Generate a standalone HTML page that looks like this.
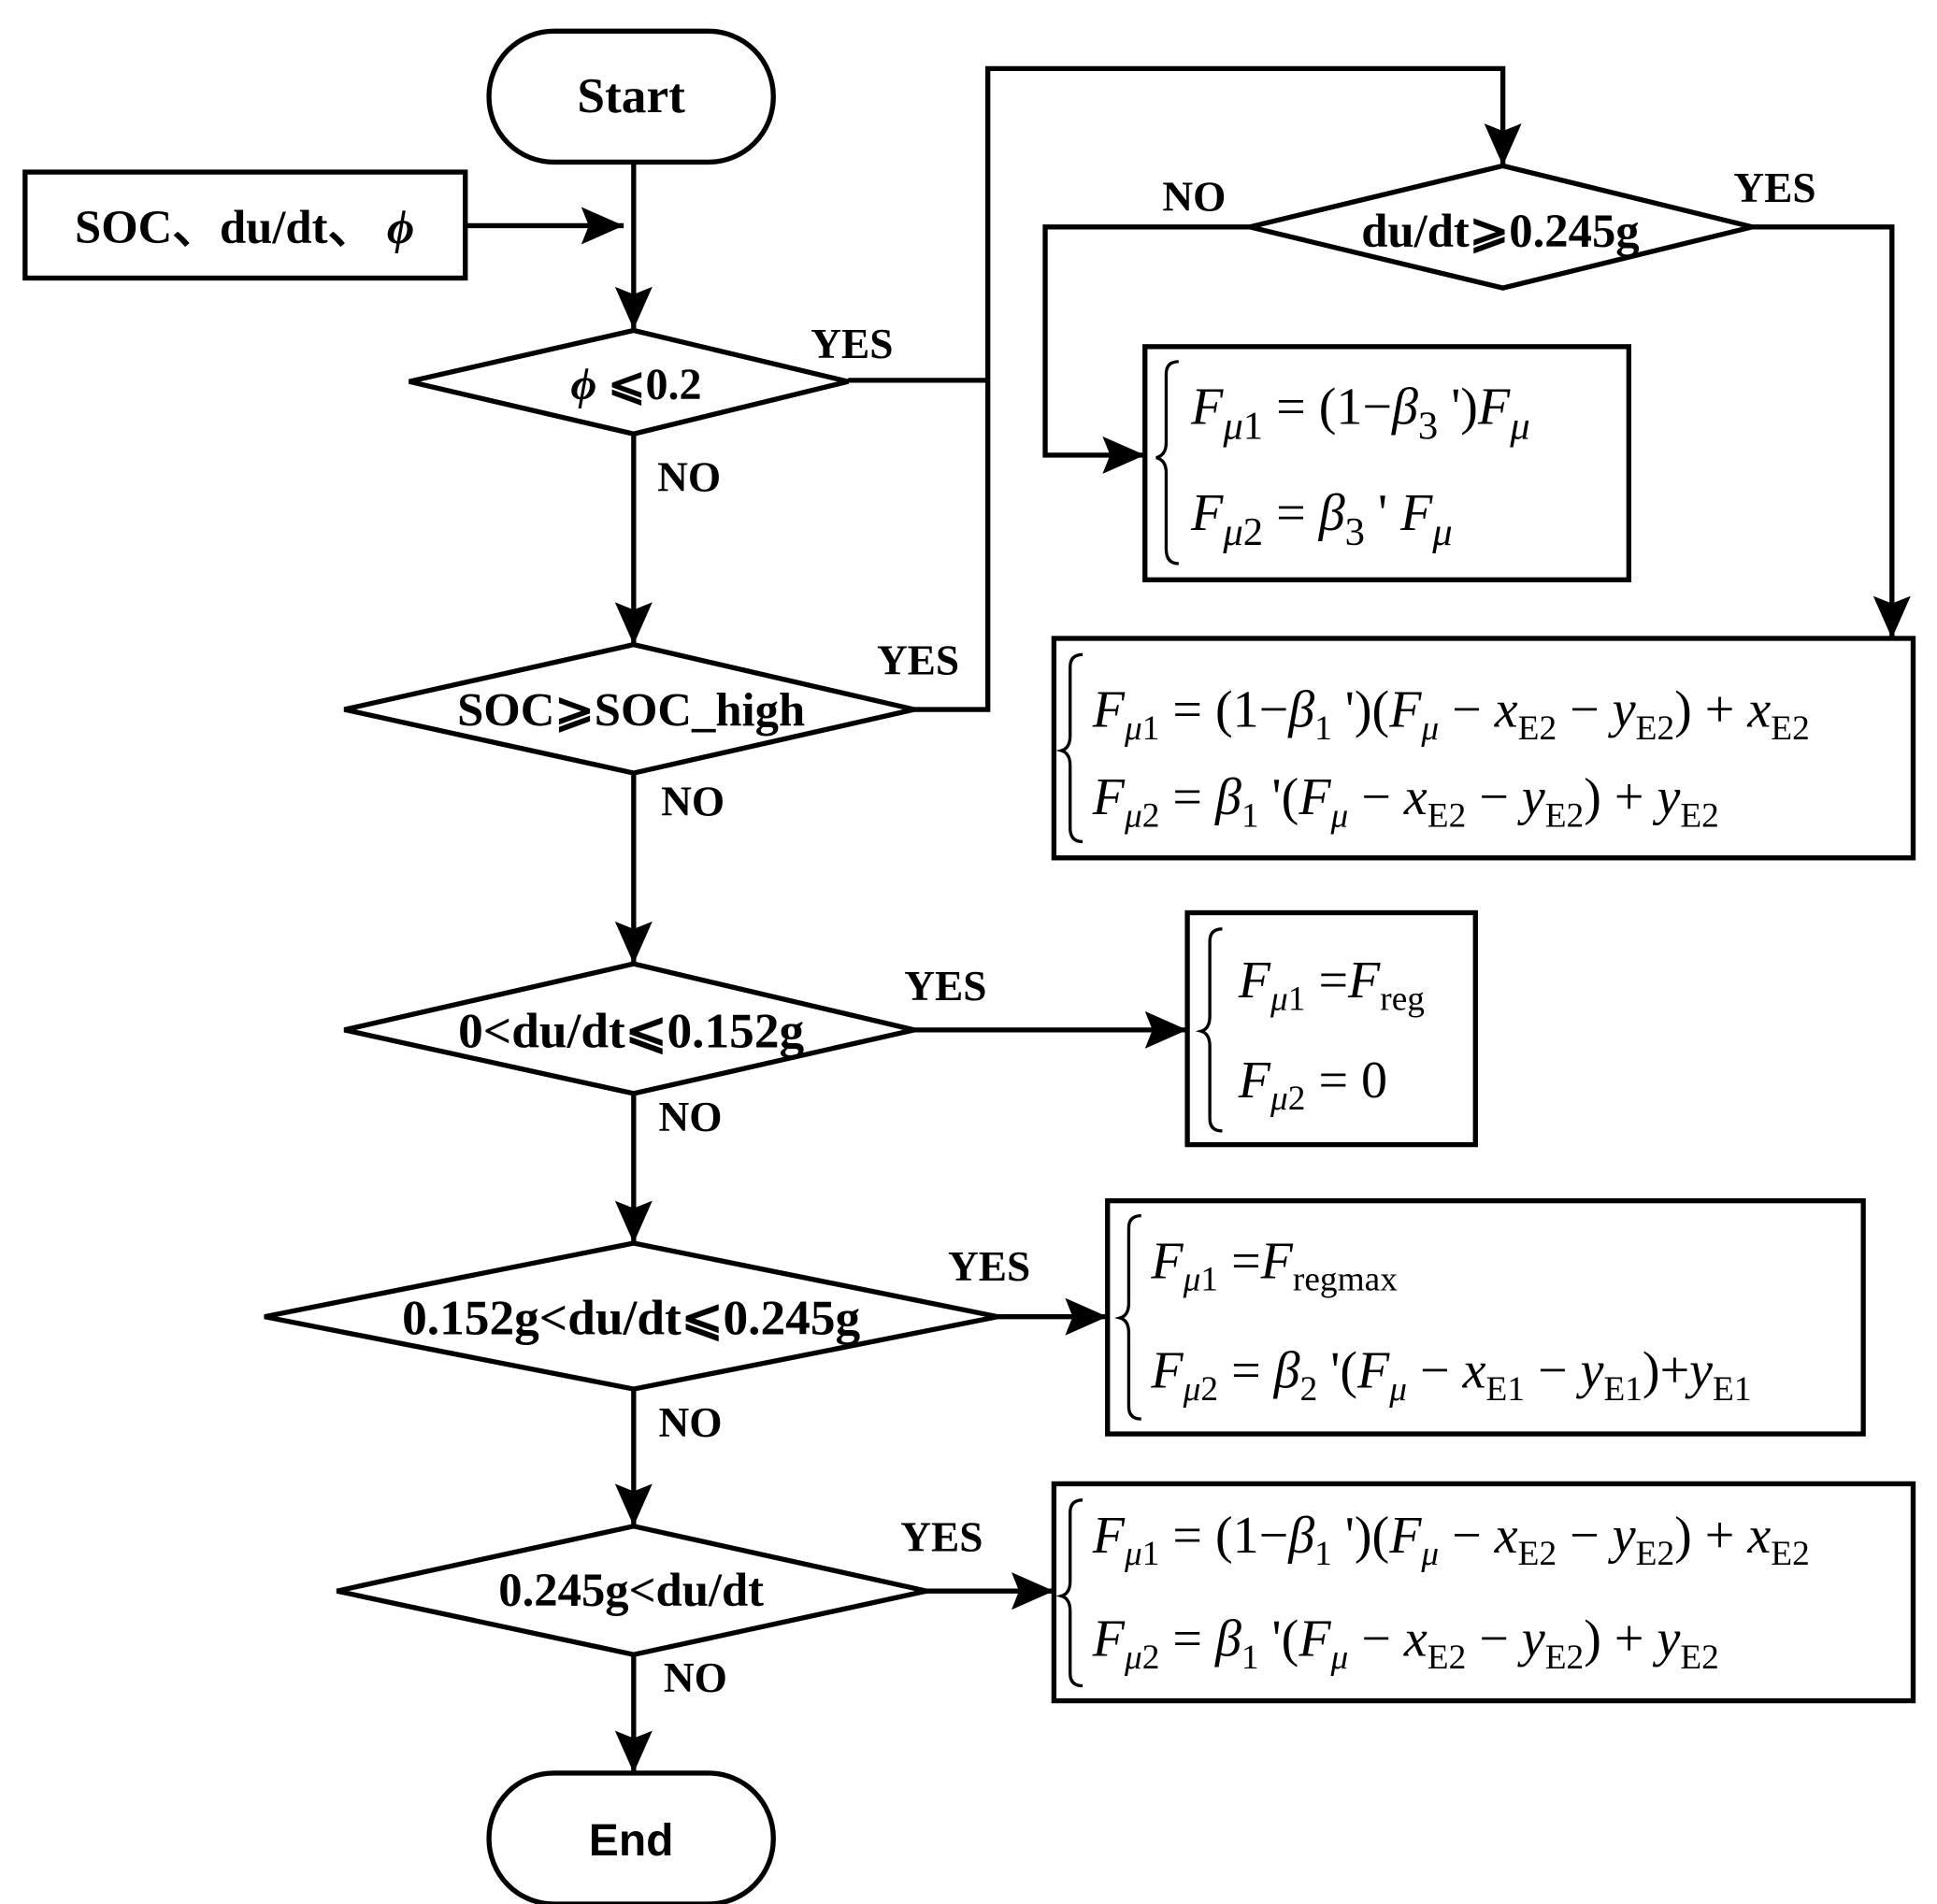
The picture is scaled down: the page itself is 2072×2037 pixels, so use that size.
<!DOCTYPE html>
<html><head><meta charset="utf-8"><style>
html,body{margin:0;padding:0;background:#fff}
svg{display:block}
.l{font-family:"Liberation Serif",serif;font-weight:bold;font-size:34px}
.f{font-family:"Liberation Serif",serif;font-size:42px}
.i{font-style:italic}
</style></head><body>
<svg width="2072" height="2037" viewBox="0 0 1553 1527" xmlns="http://www.w3.org/2000/svg">
<defs>
<marker id="b" markerWidth="34" markerHeight="30" refX="34" refY="15" orient="auto" markerUnits="userSpaceOnUse"><path d="M0,0 L34,15 L0,30 L6,15 z" fill="#000"/></marker></defs>
<g fill="none" stroke="#000" stroke-width="4">
<rect x="392" y="25" width="228" height="105" rx="52"/>
<rect x="392" y="1422" width="228" height="105" rx="52"/>
<rect x="20" y="138" width="353" height="85"/>
<rect x="918" y="278" width="388" height="187"/>
<rect x="845" y="512" width="689" height="176"/>
<rect x="952" y="732" width="231" height="186"/>
<rect x="888" y="963" width="606" height="187"/>
<rect x="845" y="1190" width="689" height="174"/>
<polygon points="328,306 508,265 680,306 508,348"/>
<polygon points="1002,182 1205,133 1405,182 1205,231"/>
<polygon points="276,569 508,517 733,569 508,620"/>
<polygon points="276,826 508,773 733,826 508,877"/>
<polygon points="212,1056 508,997 800,1056 508,1114"/>
<polygon points="270,1276 508,1224 743,1276 508,1327"/>
<g marker-end="url(#b)">
<path d="M373,181 H500"/>
<path d="M508,130 V264"/>
<path d="M792,305 V55 H1205 V133"/>
<path d="M1002,182 H838 V365 H918"/>
<path d="M1405,182 H1517 V512"/>
<path d="M508,348 V517"/>
<path d="M508,620 V773"/>
<path d="M733,826 H952"/>
<path d="M508,877 V997"/>
<path d="M800,1056 H888"/>
<path d="M508,1114 V1224"/>
<path d="M743,1276 H845"/>
<path d="M508,1327 V1422"/>
</g>
<path d="M680,305 H792 M733,569 H792 V305"/>
</g>
<g fill="none" stroke="#000" stroke-width="2.5">
<path d="M945,290 Q935,290 935,300 L935,355 Q935,365 927,367 Q935,369 935,379 L935,440 Q935,452 945,452"/>
<path d="M868,525 Q858,525 858,535 L858,590 Q858,600 851,602 Q858,604 858,614 L858,664 Q858,675 868,675"/>
<path d="M980,745 Q970,745 970,755 L970,815 Q970,825 963,827 Q970,829 970,839 L970,897 Q970,907 980,907"/>
<path d="M915,975 Q905,975 905,985 L905,1045 Q905,1055 898,1057 Q905,1059 905,1069 L905,1128 Q905,1138 915,1138"/>
<path d="M868,1203 Q858,1203 858,1213 L858,1268 Q858,1278 851,1280 Q858,1282 858,1292 L858,1342 Q858,1352 868,1352"/>
</g>
<g class="l" text-anchor="middle">
<text x="506" y="90" font-size="40">Start</text>
<text x="506" y="1488" font-size="36" font-family="Liberation Sans,sans-serif">End</text>
<text x="196" y="195" font-size="38">SOC、du/dt、 <tspan class="i">ϕ</tspan></text>
<text x="510" y="320" font-size="36"><tspan class="i">ϕ</tspan> ⩽0.2</text>
<text x="1203" y="198" font-size="38">du/dt⩾0.245g</text>
<text x="506" y="582" font-size="38">SOC⩾SOC_high</text>
<text x="506" y="840" font-size="40">0&lt;du/dt⩽0.152g</text>
<text x="506" y="1070" font-size="40">0.152g&lt;du/dt⩽0.245g</text>
<text x="506" y="1288" font-size="38">0.245g&lt;du/dt</text>
</g>
<g class="l">
<text x="650" y="287">YES</text><text x="527" y="394">NO</text>
<text x="932" y="169">NO</text><text x="1390" y="162">YES</text>
<text x="703" y="541">YES</text><text x="530" y="654">NO</text>
<text x="725" y="802">YES</text><text x="528" y="907">NO</text>
<text x="760" y="1027">YES</text><text x="528" y="1152">NO</text>
<text x="722" y="1244">YES</text><text x="532" y="1357">NO</text>
</g>
<g class="f" font-size="50">
<text x="955" y="340"><tspan class="i">F</tspan><tspan dy="12" font-size="32" class="i">μ</tspan><tspan font-size="32">1</tspan><tspan dy="-12"> = (1−</tspan><tspan class="i">β</tspan><tspan dy="12" font-size="32">3</tspan><tspan dy="-12"> ')</tspan><tspan class="i">F</tspan><tspan dy="12" font-size="32" class="i">μ</tspan></text>
<text x="955" y="425"><tspan class="i">F</tspan><tspan dy="12" font-size="32" class="i">μ</tspan><tspan font-size="32">2</tspan><tspan dy="-12"> = </tspan><tspan class="i">β</tspan><tspan dy="12" font-size="32">3</tspan><tspan dy="-12"> ' </tspan><tspan class="i">F</tspan><tspan dy="12" font-size="32" class="i">μ</tspan></text>
</g>
<g class="f" font-size="43">
<text x="876" y="583"><tspan class="i">F</tspan><tspan dy="10" font-size="28" class="i">μ</tspan><tspan font-size="28">1</tspan><tspan dy="-10"> = (1−</tspan><tspan class="i">β</tspan><tspan dy="10" font-size="28">1</tspan><tspan dy="-10"> ')(</tspan><tspan class="i">F</tspan><tspan dy="10" font-size="28" class="i">μ</tspan><tspan dy="-10"> − </tspan><tspan class="i">x</tspan><tspan dy="10" font-size="28">E2</tspan><tspan dy="-10"> − </tspan><tspan class="i">y</tspan><tspan dy="10" font-size="28">E2</tspan><tspan dy="-10">) + </tspan><tspan class="i">x</tspan><tspan dy="10" font-size="28">E2</tspan></text>
<text x="876" y="653"><tspan class="i">F</tspan><tspan dy="10" font-size="28" class="i">μ</tspan><tspan font-size="28">2</tspan><tspan dy="-10"> = </tspan><tspan class="i">β</tspan><tspan dy="10" font-size="28">1</tspan><tspan dy="-10"> '(</tspan><tspan class="i">F</tspan><tspan dy="10" font-size="28" class="i">μ</tspan><tspan dy="-10"> − </tspan><tspan class="i">x</tspan><tspan dy="10" font-size="28">E2</tspan><tspan dy="-10"> − </tspan><tspan class="i">y</tspan><tspan dy="10" font-size="28">E2</tspan><tspan dy="-10">) + </tspan><tspan class="i">y</tspan><tspan dy="10" font-size="28">E2</tspan></text>
<text x="993" y="800"><tspan class="i">F</tspan><tspan dy="10" font-size="28" class="i">μ</tspan><tspan font-size="28">1</tspan><tspan dy="-10"> =</tspan><tspan class="i">F</tspan><tspan dy="10" font-size="28">reg</tspan></text>
<text x="993" y="880"><tspan class="i">F</tspan><tspan dy="10" font-size="28" class="i">μ</tspan><tspan font-size="28">2</tspan><tspan dy="-10"> = 0</tspan></text>
<text x="923" y="1025"><tspan class="i">F</tspan><tspan dy="10" font-size="28" class="i">μ</tspan><tspan font-size="28">1</tspan><tspan dy="-10"> =</tspan><tspan class="i">F</tspan><tspan dy="10" font-size="28">regmax</tspan></text>
<text x="923" y="1113"><tspan class="i">F</tspan><tspan dy="10" font-size="28" class="i">μ</tspan><tspan font-size="28">2</tspan><tspan dy="-10"> = </tspan><tspan class="i">β</tspan><tspan dy="10" font-size="28">2</tspan><tspan dy="-10"> '(</tspan><tspan class="i">F</tspan><tspan dy="10" font-size="28" class="i">μ</tspan><tspan dy="-10"> − </tspan><tspan class="i">x</tspan><tspan dy="10" font-size="28">E1</tspan><tspan dy="-10"> − </tspan><tspan class="i">y</tspan><tspan dy="10" font-size="28">E1</tspan><tspan dy="-10">)+</tspan><tspan class="i">y</tspan><tspan dy="10" font-size="28">E1</tspan></text>
<text x="876" y="1245"><tspan class="i">F</tspan><tspan dy="10" font-size="28" class="i">μ</tspan><tspan font-size="28">1</tspan><tspan dy="-10"> = (1−</tspan><tspan class="i">β</tspan><tspan dy="10" font-size="28">1</tspan><tspan dy="-10"> ')(</tspan><tspan class="i">F</tspan><tspan dy="10" font-size="28" class="i">μ</tspan><tspan dy="-10"> − </tspan><tspan class="i">x</tspan><tspan dy="10" font-size="28">E2</tspan><tspan dy="-10"> − </tspan><tspan class="i">y</tspan><tspan dy="10" font-size="28">E2</tspan><tspan dy="-10">) + </tspan><tspan class="i">x</tspan><tspan dy="10" font-size="28">E2</tspan></text>
<text x="876" y="1328"><tspan class="i">F</tspan><tspan dy="10" font-size="28" class="i">μ</tspan><tspan font-size="28">2</tspan><tspan dy="-10"> = </tspan><tspan class="i">β</tspan><tspan dy="10" font-size="28">1</tspan><tspan dy="-10"> '(</tspan><tspan class="i">F</tspan><tspan dy="10" font-size="28" class="i">μ</tspan><tspan dy="-10"> − </tspan><tspan class="i">x</tspan><tspan dy="10" font-size="28">E2</tspan><tspan dy="-10"> − </tspan><tspan class="i">y</tspan><tspan dy="10" font-size="28">E2</tspan><tspan dy="-10">) + </tspan><tspan class="i">y</tspan><tspan dy="10" font-size="28">E2</tspan></text>
</g>
</svg>
</body></html>
